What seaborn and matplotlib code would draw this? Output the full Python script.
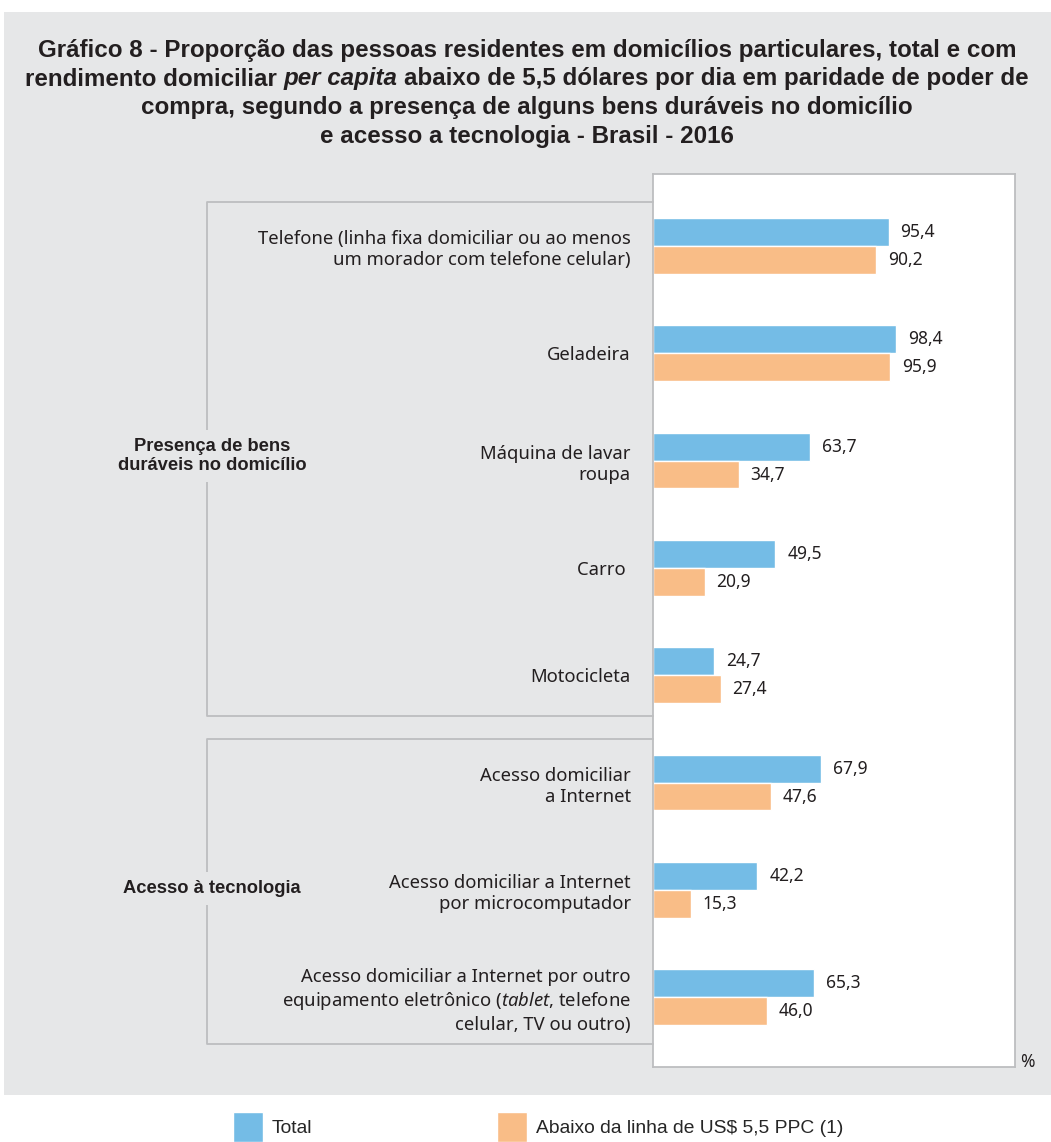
import pandas as pd
import matplotlib.pyplot as plt
import matplotlib.transforms as mtransforms
from matplotlib.patches import Rectangle
from matplotlib.lines import Line2D
import seaborn as sns

# Data
categorias = [
    "Telefone (linha fixa domiciliar ou ao menos\num morador com telefone celular)",
    "Geladeira",
    "Máquina de lavar\nroupa",
    "Carro ",
    "Motocicleta",
    "Acesso domiciliar\na Internet",
    "Acesso domiciliar a Internet\npor microcomputador",
    "Acesso domiciliar a Internet por outro\nequipamento eletrônico ($\\it{tablet}$, telefone\ncelular, TV ou outro)",
]
total = [95.4, 98.4, 63.7, 49.5, 24.7, 67.9, 42.2, 65.3]
abaixo = [90.2, 95.9, 34.7, 20.9, 27.4, 47.6, 15.3, 46.0]
series = ["Total", "Abaixo da linha de US$ 5,5 PPC (1)"]
grupos = ["Presença de bens\nduráveis no domicílio", "Acesso à tecnologia"]
grupo_limites = [(-0.41, 4.38), (4.59, 7.44)]

df = pd.DataFrame({
    "categoria": categorias * 2,
    "serie": [series[0]] * len(total) + [series[1]] * len(abaixo),
    "valor": total + abaixo,
})

sns.set_theme(style="white")
plt.rcParams["font.family"] = ["Noto Sans", "DejaVu Sans"]
plt.rcParams["mathtext.fontset"] = "custom"
plt.rcParams["mathtext.rm"] = "Noto Sans"
plt.rcParams["mathtext.it"] = "Noto Sans:italic"

BG = "#e6e7e8"
TXT = "#231f20"
BLUE = "#74bce6"
ORANGE = "#f9bd87"
LINE = "#bdbec0"
TITLE_FONT = ["Liberation Sans", "DejaVu Sans"]

W, H = 1051, 1142
fig = plt.figure(figsize=(W / 100, H / 100), dpi=100)
fig.patch.set_facecolor("white")
fig.add_artist(Rectangle((4 / W, 1 - 1095 / H), 1 - 4 / W, (1095 - 12) / H,
                         transform=fig.transFigure, facecolor=BG, edgecolor="none", zorder=0))

ax = fig.add_axes([653 / W, 1 - 1067 / H, 362 / W, 893 / H])
sns.barplot(data=df, y="categoria", x="valor", hue="serie", orient="h",
            palette=[BLUE, ORANGE], saturation=1, width=0.52, ax=ax)
handles, labels = ax.get_legend_handles_labels()
ax.legend_.remove()

ax.set_facecolor("white")
ax.set_xlim(0, 146.6)
ax.set_ylim(7.65, -0.67)
ax.set_xticks([])
ax.set_xlabel("")
ax.set_ylabel("")
ax.tick_params(axis="y", length=0, pad=16, labelsize=13.3, labelcolor=TXT)
for lab in ax.get_yticklabels():
    lab.set_linespacing(1.25)
for sp in ax.spines.values():
    sp.set_visible(True)
    sp.set_color(LINE)
    sp.set_linewidth(1.3)

for cont, vals in zip(ax.containers, [total, abaixo]):
    ax.bar_label(cont, labels=[f"{v:.1f}".replace(".", ",") for v in vals],
                 padding=8.6, fontsize=12.5, color=TXT)

ax.text(1.015, 0.0, "%", transform=ax.transAxes, ha="left", va="baseline",
        fontsize=12.5, color=TXT)

# group brackets
trans = mtransforms.blended_transform_factory(fig.transFigure, ax.transData)
xb, xa = 207 / W, 653 / W
for nome, (y0, y1) in zip(grupos, grupo_limites):
    fig.add_artist(Line2D([xa, xb, xb, xa], [y0, y0, y1, y1], transform=trans,
                          color=LINE, lw=1.3, zorder=1))
    fig.text(212 / W, (y0 + y1) / 2 - 0.03, nome, transform=trans, ha="center", va="center",
             fontsize=13.2, fontweight="bold", family=TITLE_FONT, color=TXT, zorder=2,
             linespacing=1.15,
             bbox=dict(boxstyle="square,pad=0.45", facecolor=BG, edgecolor="none"))

# title, composed piece by piece for the italic part
titulo = [
    [("Gráfico 8 - Proporção das pessoas residentes em domicílios particulares, total e com", "normal")],
    [("rendimento domiciliar", "normal"), ("per capita", "italic"),
     ("abaixo de 5,5 dólares por dia em paridade de poder de", "normal")],
    [("compra, segundo a presença de alguns bens duráveis no domicílio", "normal")],
    [("e acesso a tecnologia - Brasil - 2016", "normal")],
]
renderer = fig.canvas.get_renderer()
tkw = dict(fontsize=17.4, fontweight="bold", family=TITLE_FONT, color=TXT, va="baseline")
a = fig.text(0, 0, "x x", **tkw)
b = fig.text(0, 0, "xx", **tkw)
esp = a.get_window_extent(renderer).width - b.get_window_extent(renderer).width
a.remove()
b.remove()
for i, partes in enumerate(titulo):
    yb = 1 - (57 + 28.5 * i) / H
    txts = [fig.text(0, yb, s, fontstyle=st, **tkw) for s, st in partes]
    larg = [t.get_window_extent(renderer).width for t in txts]
    x = 527 - (sum(larg) + esp * (len(larg) - 1)) / 2
    for t, w in zip(txts, larg):
        t.set_x(x / W)
        x += w + esp

fig.legend(handles, labels, loc="lower left", bbox_to_anchor=(233 / W, 0), ncol=2,
           frameon=False, prop={"family": TITLE_FONT, "size": 13.9},
           handlelength=1.55, handleheight=2.0, handletextpad=0.45,
           columnspacing=9.6, borderpad=0, borderaxespad=0)

fig.savefig("out.png", dpi=100)
